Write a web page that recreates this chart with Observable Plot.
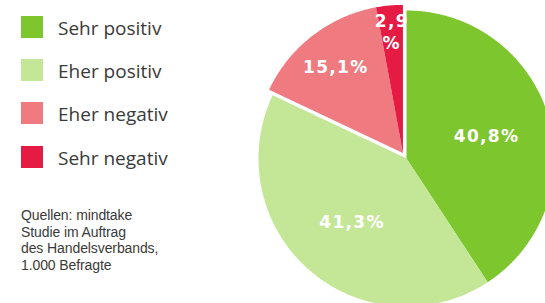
<!DOCTYPE html>
<html>
<head>
<meta charset="utf-8">
<script src="https://cdn.jsdelivr.net/npm/d3@7"></script>
<script src="https://cdn.jsdelivr.net/npm/@observablehq/plot@0.6"></script>
<style>
  html, body { margin: 0; padding: 0; background: #fff; }
  #wrap { position: relative; width: 545px; height: 303px; display: flex; overflow: hidden; }
  #left { position: relative; width: 250px; height: 303px; flex: none; font-family: "Open Sans", sans-serif; color: #3a3a3a; }
  #legend { position: absolute; left: 21px; top: 5px; }
  .item { display: flex; align-items: center; height: 43.3px; }
  .item .sw { width: 22px; height: 22px; margin-right: 15px; flex: none; }
  .item .lb { font-size: 19px; line-height: 22px; position: relative; top: 1px; }
  #caption { position: absolute; left: 21px; top: 207px; font-size: 14px; line-height: 16.5px; font-family: "Liberation Sans", Arial, sans-serif; letter-spacing: -0.1px; }
  #caption div { height: 16.5px; }
  #chart { width: 295px; height: 303px; flex: none; }
</style>
</head>
<body>
<div id="wrap">
  <div id="left">
    <div id="legend"></div>
    <div id="caption"></div>
  </div>
  <div id="chart"></div>
</div>
<script>
// ---- data ----
const categories = ["Sehr positiv", "Eher positiv", "Eher negativ", "Sehr negativ"];
const values = [40.8, 41.3, 15.1, 2.9];
const explodedCategories = ["Eher negativ", "Sehr negativ"];
const captionLines = ["Quellen: mindtake", "Studie im Auftrag", "des Handelsverbands,", "1.000 Befragte"];

// ---- style ----
const colors = ["#7dc62e", "#c4e797", "#ef7b81", "#e61b44"];

// legend
const legend = document.getElementById("legend");
categories.forEach((c, i) => {
  const it = document.createElement("div");
  it.className = "item";
  it.innerHTML = `<div class="sw" style="background:${colors[i]}"></div><div class="lb">${c}</div>`;
  legend.appendChild(it);
});
const cap = document.getElementById("caption");
captionLines.forEach(t => {
  const d = document.createElement("div");
  d.textContent = t;
  cap.appendChild(d);
});

// pie geometry (unit radius)
const table = categories.map((c, i) => ({category: c, value: values[i]}));
const arcs = d3.pie().sort(null).value(d => d.value)(table);
const expl = arcs.filter(a => explodedCategories.includes(a.data.category));
const gMid = (d3.min(expl, a => a.startAngle) + d3.max(expl, a => a.endAngle)) / 2;
const explodeDist = 0.045;
const pts = [];
const labels = [];
arcs.forEach(a => {
  const isEx = explodedCategories.includes(a.data.category);
  const ox = isEx ? explodeDist * Math.sin(gMid) : 0;
  const oy = isEx ? explodeDist * Math.cos(gMid) : 0;
  const c = a.data.category;
  pts.push({category: c, x: ox, y: oy});
  const n = Math.max(2, Math.ceil((a.endAngle - a.startAngle) / (Math.PI / 360)));
  for (let k = 0; k <= n; k++) {
    const t = a.startAngle + (a.endAngle - a.startAngle) * k / n;
    pts.push({category: c, x: ox + Math.sin(t), y: oy + Math.cos(t)});
  }
  pts.push({category: c, x: ox, y: oy});
  const m = (a.startAngle + a.endAngle) / 2;
  const kr = 0.85 - 0.007 * a.data.value;
  const txt = a.data.value.toFixed(1).replace(".", ",") + (a.data.value < 5 ? "\n%" : "%");
  labels.push({x: ox + kr * Math.sin(m), y: oy + kr * Math.cos(m), text: txt});
});

const W = 295, H = 303, R = 148, CX = 156, CY = 158;
const chart = Plot.plot({
  width: W,
  height: H,
  margin: 0,
  x: {domain: [-CX / R, (W - CX) / R], axis: null},
  y: {domain: [-(H - CY) / R, CY / R], axis: null},
  color: {domain: categories, range: colors},
  marks: [
    Plot.line(pts, {x: "x", y: "y", z: "category", fill: "category", stroke: "none", curve: "linear"}),
    Plot.text(labels, {x: "x", y: "y", text: "text", fill: "white", fontSize: 17, fontWeight: "bold",
      fontFamily: "DejaVu Sans", lineHeight: 1.3})
  ]
});
chart.style.letterSpacing = "1.3px";
document.getElementById("chart").appendChild(chart);
</script>
</body>
</html>
